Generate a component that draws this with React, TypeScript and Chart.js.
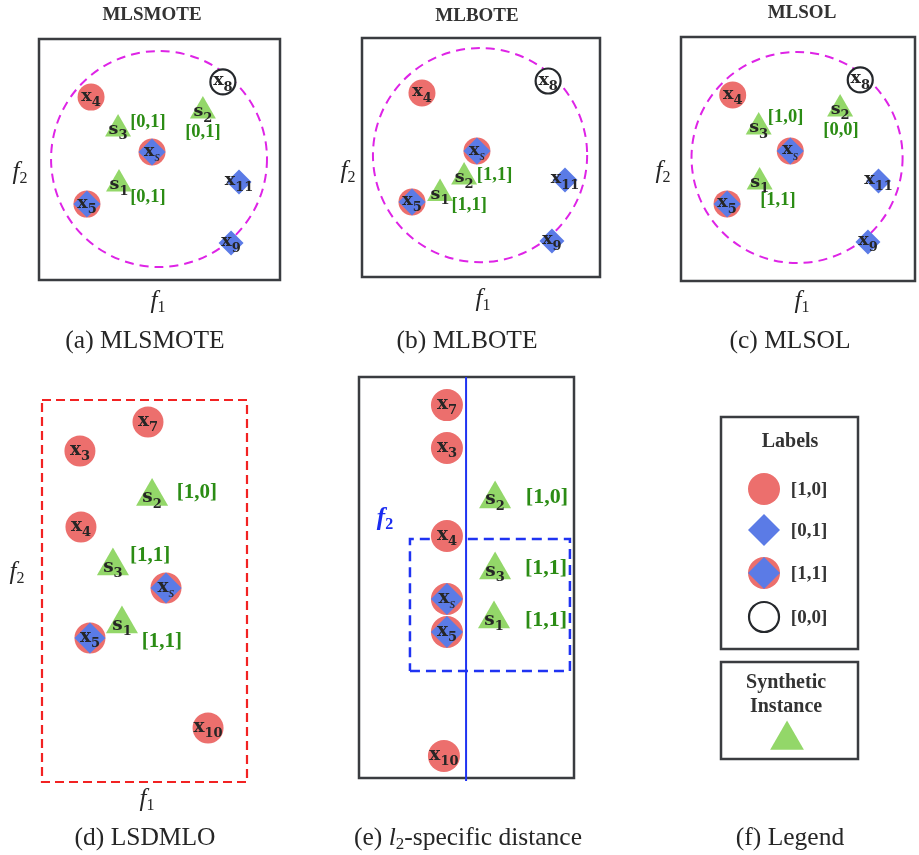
import React, { useEffect, useRef } from 'react';
import { Chart, registerables } from 'chart.js';

Chart.register(...registerables);

const SERIF = '"Liberation Serif", "Times New Roman", serif';
const DSERIF = '"DejaVu Serif", "Liberation Serif", serif';
const RED = '#ec6f6d';
const BLUE = '#5b7be6';
const GREEN = '#93d769';
const GREEN_TXT = '#2b8c14';
const INK = '#262626';
const FRAME = '#3a3c40';
const MAGENTA = '#de24e6';
const BLUE_LINE = '#1f33f2';
const RED_DASH = '#f22222';

// ---------- (a) MLSMOTE ----------
const A_INST = ['x4', 'x8', 'xs', 'x5', 'x11', 'x9'];
const A_INST_LAB = ['10', '00', '11', '11', '01', '01'];
const A_INST_X = [2.16, 7.63, 4.69, 1.99, 8.3, 7.97];
const A_INST_Y = [7.59, 8.22, 5.31, 3.15, 4.07, 1.54];
const A_SYN = ['s1', 's2', 's3'];
const A_SYN_X = [3.32, 6.8, 3.28];
const A_SYN_Y = [3.98, 7.01, 6.27];
const A_SYN_LAB = ['[0,1]', '[0,1]', '[0,1]'];
const A_SYN_LX = [4.52, 6.8, 4.52];
const A_SYN_LY = [3.44, 6.14, 6.56];
const A_CIRCLE = [4.98, 5.02, 4.48];

// ---------- (b) MLBOTE ----------
const B_INST = ['x4', 'x8', 'xs', 'x5', 'x11', 'x9'];
const B_INST_LAB = ['10', '00', '11', '11', '01', '01'];
const B_INST_X = [2.52, 7.82, 4.83, 2.1, 8.53, 7.98];
const B_INST_Y = [7.7, 8.2, 5.27, 3.14, 4.06, 1.51];
const B_SYN = ['s1', 's2'];
const B_SYN_X = [3.28, 4.29];
const B_SYN_Y = [3.49, 4.18];
const B_SYN_LAB = ['[1,1]', '[1,1]'];
const B_SYN_LX = [4.5, 5.57];
const B_SYN_LY = [3.01, 4.27];
const B_CIRCLE = [4.96, 5.1, 4.5];

// ---------- (c) MLSOL ----------
const C_INST = ['x4', 'x8', 'xs', 'x5', 'x11', 'x9'];
const C_INST_LAB = ['10', '00', '11', '11', '01', '01'];
const C_INST_X = [2.21, 7.66, 4.67, 1.97, 8.44, 7.99];
const C_INST_Y = [7.62, 8.24, 5.33, 3.16, 4.1, 1.6];
const C_SYN = ['s1', 's2', 's3'];
const C_SYN_X = [3.36, 6.8, 3.32];
const C_SYN_Y = [4.06, 7.05, 6.31];
const C_SYN_LAB = ['[1,1]', '[0,0]', '[1,0]'];
const C_SYN_LX = [4.14, 6.84, 4.47];
const C_SYN_LY = [3.32, 6.19, 6.72];
const C_CIRCLE = [4.96, 5.06, 4.51];

// ---------- (d) LSDMLO ----------
const D_INST = ['x7', 'x3', 'x4', 'xs', 'x5', 'x10'];
const D_INST_LAB = ['10', '10', '10', '11', '11', '10'];
const D_INST_X = [5.17, 1.85, 1.9, 6.05, 2.34, 8.1];
const D_INST_Y = [18.85, 17.33, 13.35, 10.16, 7.54, 2.83];
const D_SYN = ['s1', 's2', 's3'];
const D_SYN_X = [3.9, 5.37, 3.46];
const D_SYN_Y = [8.27, 14.95, 11.31];
const D_SYN_LAB = ['[1,1]', '[1,0]', '[1,1]'];
const D_SYN_LX = [5.85, 7.56, 5.27];
const D_SYN_LY = [7.33, 15.13, 11.88];

// ---------- (e) l2-specific distance ----------
const E_INST = ['x7', 'x3', 'x4', 'xs', 'x5', 'x10'];
const E_INST_LAB = ['10', '10', '10', '11', '11', '10'];
const E_INST_X = [4.09, 4.09, 4.09, 4.09, 4.09, 3.95];
const E_INST_Y = [18.6, 16.46, 12.07, 8.93, 7.28, 1.1];
const E_SYN = ['s1', 's2', 's3'];
const E_SYN_X = [6.28, 6.33, 6.33];
const E_SYN_Y = [7.93, 13.92, 10.37];
const E_SYN_LAB = ['[1,1]', '[1,0]', '[1,1]'];
const E_SYN_LX = [8.7, 8.74, 8.7];
const E_SYN_LY = [7.88, 14.01, 10.47];
const E_AXIS_X = [4.98, 4.98];
const E_AXIS_Y = [-0.15, 20];
const E_WIN_X = [2.37, 9.81, 9.81, 2.37, 2.37];
const E_WIN_Y = [5.34, 5.34, 11.92, 11.92, 5.34];

// ---------- (f) Legend ----------
const F_LAB = ['10', '01', '11', '00'];
const F_TEXT = ['[1,0]', '[0,1]', '[1,1]', '[0,0]'];
const F_X = [3.14, 3.14, 3.14, 3.14];
const F_Y = [19.74, 16.74, 13.6, 10.38];
const F_SYN_X = [4.82];
const F_SYN_Y = [1.39];

type Run = { t: string; font: string; dy?: number; color?: string };

function drawRuns(ctx: CanvasRenderingContext2D, parts: Run[], x: number, y: number, align = 'center') {
  ctx.save();
  ctx.textBaseline = 'alphabetic';
  ctx.textAlign = 'left';
  let total = 0;
  const ws = parts.map((p) => {
    ctx.font = p.font;
    const w = ctx.measureText(p.t).width;
    total += w;
    return w;
  });
  let cx = align === 'center' ? x - total / 2 : x;
  parts.forEach((p, i) => {
    ctx.font = p.font;
    ctx.fillStyle = p.color || INK;
    ctx.fillText(p.t, cx, y + (p.dy || 0));
    cx += ws[i];
  });
  ctx.restore();
}

function PX(c: any, v: number) {
  return c.scales.x.getPixelForValue(v);
}
function PY(c: any, v: number) {
  return c.scales.y.getPixelForValue(v);
}

function markerName(ctx: CanvasRenderingContext2D, name: string, x: number, y: number, size: number, tri: boolean) {
  const main = name[0];
  const sub = name.slice(1);
  const subFont = sub === 's' ? `italic ${Math.round(size * 0.8)}px ${SERIF}` : `bold ${Math.round(size * 0.72)}px ${DSERIF}`;
  const base = y + (tri ? 0.3 : 0.2) * size;
  drawRuns(ctx, [
    { t: main, font: `bold ${size}px ${DSERIF}` },
    { t: sub, font: subFont, dy: size * 0.3 },
  ], x, base);
}

function plainText(ctx: CanvasRenderingContext2D, t: string, x: number, y: number, font: string, color: string, align: CanvasTextAlign = 'center', baseline: CanvasTextBaseline = 'middle') {
  ctx.save();
  ctx.font = font;
  ctx.fillStyle = color;
  ctx.textAlign = align;
  ctx.textBaseline = baseline;
  ctx.fillText(t, x, y);
  ctx.restore();
}

function axisLabel(ctx: CanvasRenderingContext2D, sub: string, x: number, y: number, color = INK, bold = false) {
  const b = bold ? 'bold ' : '';
  drawRuns(ctx, [
    { t: 'f', font: `italic ${b}25px ${SERIF}`, color },
    { t: sub, font: `${b}16px ${SERIF}`, dy: 4, color },
  ], x, y + 6);
}

function caption(ctx: CanvasRenderingContext2D, parts: Run[], x: number, y: number) {
  drawRuns(ctx, parts, x, y);
}

const CAP = `25.5px ${SERIF}`;
const TITLE = `bold 19px ${SERIF}`;

function frame(ctx: CanvasRenderingContext2D, c: any, color: string, width: number, dash: number[] = []) {
  const { left, top, right, bottom } = c.chartArea;
  ctx.save();
  ctx.strokeStyle = color;
  ctx.lineWidth = width;
  ctx.setLineDash(dash);
  ctx.strokeRect(left, top, right - left, bottom - top);
  ctx.restore();
}

function dashedCircle(ctx: CanvasRenderingContext2D, c: any, circle: number[]) {
  const [cx, cy, r] = circle;
  const px = PX(c, cx);
  const py = PY(c, cy);
  const pr = PX(c, cx + r) - px;
  ctx.save();
  ctx.strokeStyle = MAGENTA;
  ctx.lineWidth = 2;
  ctx.setLineDash([9, 6]);
  ctx.beginPath();
  ctx.arc(px, py, pr, 0, Math.PI * 2);
  ctx.stroke();
  ctx.restore();
}

function instanceSets(labels: string[], xs: number[], ys: number[], rc: number, rd: number) {
  const red: any[] = [];
  const blue: any[] = [];
  const blueR: number[] = [];
  const open: any[] = [];
  labels.forEach((l, i) => {
    const p = { x: xs[i], y: ys[i] };
    if (l === '10' || l === '11') red.push(p);
    if (l === '01' || l === '11') {
      blue.push(p);
      blueR.push(l === '11' ? rc : rd);
    }
    if (l === '00') open.push(p);
  });
  const common = { showLine: false, clip: false as any, pointBorderWidth: 0, pointHoverBorderWidth: 0 };
  return [
    { ...common, label: 'red', data: red, order: 5, pointStyle: 'circle', pointRadius: rc, pointHoverRadius: rc, pointBackgroundColor: RED, backgroundColor: RED },
    { ...common, label: 'blue', data: blue, order: 4, pointStyle: 'rectRot', pointRadius: blueR, pointHoverRadius: blueR, pointBackgroundColor: BLUE, backgroundColor: BLUE },
    { ...common, label: 'none', data: open, order: 3, pointStyle: 'circle', pointRadius: rc - 1, pointHoverRadius: rc - 1, pointBackgroundColor: '#ffffff', pointBorderColor: '#25282c', pointBorderWidth: 2.2 },
  ];
}

function synthSet(xs: number[], ys: number[], r: number) {
  return {
    label: 'synthetic',
    data: xs.map((x, i) => ({ x, y: ys[i] })),
    order: 2,
    showLine: false,
    clip: false as any,
    pointStyle: 'triangle',
    pointRadius: r,
    pointHoverRadius: r,
    pointBorderWidth: 0,
    pointBackgroundColor: GREEN,
    backgroundColor: GREEN,
  };
}

type Panel = {
  w: number;
  h: number;
  area: number[];
  xr: number[];
  yr: number[];
  datasets: () => any[];
  before: (ctx: CanvasRenderingContext2D, c: any) => void;
  after: (ctx: CanvasRenderingContext2D, c: any) => void;
};

function namesAndLabels(
  ctx: CanvasRenderingContext2D, c: any,
  inst: string[], ix: number[], iy: number[],
  syn: string[], sx: number[], sy: number[],
  lab: string[], lx: number[], ly: number[],
  nameSize: number, labSize: number,
) {
  inst.forEach((n, i) => markerName(ctx, n, PX(c, ix[i]), PY(c, iy[i]), nameSize, false));
  syn.forEach((n, i) => markerName(ctx, n, PX(c, sx[i]), PY(c, sy[i]), nameSize, true));
  lab.forEach((t, i) => plainText(ctx, t, PX(c, lx[i]), PY(c, ly[i]), `bold ${labSize}px ${SERIF}`, GREEN_TXT));
}

const PANELS: Panel[] = [
  {
    w: 919, h: 855, area: [39, 39, 280, 280], xr: [0, 10], yr: [0, 10],
    datasets: () => [...instanceSets(A_INST_LAB, A_INST_X, A_INST_Y, 13.5, 12.5), synthSet(A_SYN_X, A_SYN_Y, 15)],
    before: (ctx, c) => {
      frame(ctx, c, FRAME, 2.5);
      dashedCircle(ctx, c, A_CIRCLE);
    },
    after: (ctx, c) => {
      namesAndLabels(ctx, c, A_INST, A_INST_X, A_INST_Y, A_SYN, A_SYN_X, A_SYN_Y, A_SYN_LAB, A_SYN_LX, A_SYN_LY, 17.5, 18.5);
      plainText(ctx, 'MLSMOTE', 152, 19.5, TITLE, '#333', 'center', 'alphabetic');
      axisLabel(ctx, '2', 20, 173);
      axisLabel(ctx, '1', 158, 302);
      caption(ctx, [{ t: '(a) MLSMOTE', font: CAP }], 145, 348);
    },
  },
  {
    w: 919, h: 855, area: [362, 38, 600, 277], xr: [0, 10], yr: [0, 10],
    datasets: () => [...instanceSets(B_INST_LAB, B_INST_X, B_INST_Y, 13.5, 12.5), synthSet(B_SYN_X, B_SYN_Y, 15)],
    before: (ctx, c) => {
      frame(ctx, c, FRAME, 2.5);
      dashedCircle(ctx, c, B_CIRCLE);
    },
    after: (ctx, c) => {
      namesAndLabels(ctx, c, B_INST, B_INST_X, B_INST_Y, B_SYN, B_SYN_X, B_SYN_Y, B_SYN_LAB, B_SYN_LX, B_SYN_LY, 17.5, 18.5);
      plainText(ctx, 'MLBOTE', 477, 20.5, TITLE, '#333', 'center', 'alphabetic');
      axisLabel(ctx, '2', 348, 172);
      axisLabel(ctx, '1', 483, 300);
      caption(ctx, [{ t: '(b) MLBOTE', font: CAP }], 467, 348);
    },
  },
  {
    w: 930, h: 855, area: [681, 37, 925, 281], xr: [0, 10], yr: [0, 10],
    datasets: () => [...instanceSets(C_INST_LAB, C_INST_X, C_INST_Y, 13.5, 12.5), synthSet(C_SYN_X, C_SYN_Y, 15)],
    before: (ctx, c) => {
      frame(ctx, c, FRAME, 2.5);
      dashedCircle(ctx, c, C_CIRCLE);
    },
    after: (ctx, c) => {
      namesAndLabels(ctx, c, C_INST, C_INST_X, C_INST_Y, C_SYN, C_SYN_X, C_SYN_Y, C_SYN_LAB, C_SYN_LX, C_SYN_LY, 17.5, 18.5);
      plainText(ctx, 'MLSOL', 802, 18, TITLE, '#333', 'center', 'alphabetic');
      axisLabel(ctx, '2', 663, 172);
      axisLabel(ctx, '1', 802, 302);
      caption(ctx, [{ t: '(c) MLSOL', font: CAP }], 790, 348);
    },
  },
  {
    w: 919, h: 855, area: [42, 400, 247, 782], xr: [0, 10], yr: [0, 20],
    datasets: () => [...instanceSets(D_INST_LAB, D_INST_X, D_INST_Y, 15.5, 15.5), synthSet(D_SYN_X, D_SYN_Y, 18.5)],
    before: (ctx, c) => {
      frame(ctx, c, RED_DASH, 2.2, [9, 5]);
    },
    after: (ctx, c) => {
      namesAndLabels(ctx, c, D_INST, D_INST_X, D_INST_Y, D_SYN, D_SYN_X, D_SYN_Y, D_SYN_LAB, D_SYN_LX, D_SYN_LY, 18.5, 21);
      axisLabel(ctx, '2', 17, 573);
      axisLabel(ctx, '1', 147, 800);
      caption(ctx, [{ t: '(d) LSDMLO', font: CAP }], 145, 845);
    },
  },
  {
    w: 919, h: 855, area: [359, 377, 574, 778], xr: [0, 10], yr: [0, 20],
    datasets: () => [
      ...instanceSets(E_INST_LAB, E_INST_X, E_INST_Y, 16, 16),
      synthSet(E_SYN_X, E_SYN_Y, 18.5),
      {
        label: 'f2 axis', data: E_AXIS_X.map((x, i) => ({ x, y: E_AXIS_Y[i] })), order: 10, showLine: true, clip: false,
        borderColor: BLUE_LINE, borderWidth: 2, pointRadius: 0, pointHoverRadius: 0, fill: false, tension: 0,
      },
      {
        label: 'window', data: E_WIN_X.map((x, i) => ({ x, y: E_WIN_Y[i] })), order: 9, showLine: true, clip: false,
        borderColor: BLUE_LINE, borderWidth: 2.5, borderDash: [10, 6], pointRadius: 0, pointHoverRadius: 0, fill: false, tension: 0,
      },
    ],
    before: (ctx, c) => {
      frame(ctx, c, FRAME, 2.5);
    },
    after: (ctx, c) => {
      namesAndLabels(ctx, c, E_INST, E_INST_X, E_INST_Y, E_SYN, E_SYN_X, E_SYN_Y, E_SYN_LAB, E_SYN_LX, E_SYN_LY, 18.5, 22);
      axisLabel(ctx, '2', 385, 519, '#1a2cf0', true);
      caption(ctx, [
        { t: '(e) ', font: CAP },
        { t: 'l', font: `italic ${CAP}` },
        { t: '2', font: `17px ${SERIF}`, dy: 4 },
        { t: '-specific distance', font: CAP },
      ], 468, 845);
    },
  },
  {
    w: 919, h: 855, area: [721, 417, 858, 759], xr: [0, 10], yr: [0, 25],
    datasets: () => [...instanceSets(F_LAB, F_X, F_Y, 16, 16), synthSet(F_SYN_X, F_SYN_Y, 19.5)],
    before: (ctx, c) => {
      const { left, right } = c.chartArea;
      ctx.save();
      ctx.strokeStyle = FRAME;
      ctx.lineWidth = 2.5;
      const t1 = PY(c, 25);
      const b1 = PY(c, 8.04);
      ctx.strokeRect(left, t1, right - left, b1 - t1);
      const t2 = PY(c, 7.09);
      const b2 = PY(c, 0);
      ctx.strokeRect(left, t2, right - left, b2 - t2);
      ctx.restore();
    },
    after: (ctx, c) => {
      const bold = `bold 20px ${SERIF}`;
      plainText(ctx, 'Labels', PX(c, 5.04), PY(c, 23.17), bold, '#333');
      F_TEXT.forEach((t, i) => plainText(ctx, t, PX(c, 5.1), PY(c, F_Y[i]) + 1, `bold 19px ${SERIF}`, '#333', 'left'));
      plainText(ctx, 'Synthetic', PX(c, 4.75), PY(c, 5.56), bold, '#333');
      plainText(ctx, 'Instance', PX(c, 4.75), PY(c, 3.8), bold, '#333');
      caption(ctx, [{ t: '(f) Legend', font: CAP }], 790, 845);
    },
  },
];

function PanelCanvas({ p }: { p: Panel }) {
  const ref = useRef<HTMLCanvasElement | null>(null);
  useEffect(() => {
    const canvas = ref.current;
    if (!canvas) return;
    const [l, t, r, b] = p.area;
    const chart = new Chart(canvas, {
      type: 'scatter',
      data: { datasets: p.datasets() },
      options: {
        responsive: false,
        animation: false,
        events: [],
        layout: { padding: { left: l, top: t, right: p.w - r, bottom: p.h - b } },
        scales: {
          x: { type: 'linear', display: false, min: p.xr[0], max: p.xr[1] },
          y: { type: 'linear', display: false, min: p.yr[0], max: p.yr[1] },
        },
        plugins: { legend: { display: false }, tooltip: { enabled: false }, title: { display: false } },
      },
      plugins: [
        {
          id: 'deco',
          beforeDatasetsDraw(c: any) {
            p.before(c.ctx, c);
          },
          afterDatasetsDraw(c: any) {
            p.after(c.ctx, c);
          },
        },
      ],
    } as any);
    return () => chart.destroy();
  }, [p]);
  return (
    <canvas
      ref={ref}
      width={p.w}
      height={p.h}
      style={{ position: 'absolute', left: 0, top: 0, width: p.w, height: p.h }}
    />
  );
}

export default function App() {
  return (
    <div style={{ position: 'absolute', left: 0, top: 0, width: 919, height: 855, overflow: 'hidden', background: '#ffffff' }}>
      {PANELS.map((p, i) => (
        <PanelCanvas key={i} p={p} />
      ))}
    </div>
  );
}
